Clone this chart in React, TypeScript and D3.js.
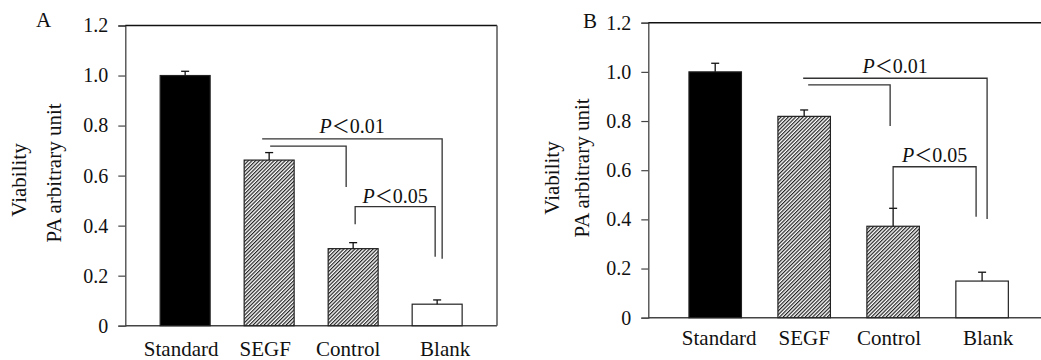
import { useEffect, useRef } from 'react'
import * as d3 from 'd3'

const CATEGORIES = ['Standard', 'SEGF', 'Control', 'Blank']
const Y_TICKS = [0, 0.2, 0.4, 0.6, 0.8, 1.0, 1.2]

const VALUES_A = [1.0, 0.662, 0.308, 0.086]
const ERRORS_A = [0.017, 0.03, 0.024, 0.017]
const VALUES_B = [1.0, 0.819, 0.372, 0.149]
const ERRORS_B = [0.035, 0.026, 0.073, 0.036]

const FILLS = ['#000', 'url(#hatch)', 'url(#hatch)', '#fff']

// bracket level / drop ends in data units (null = no drop)
type Bracket = { from: number; to: number; level: number; dropFrom: number | null; dropTo: number | null; dx0: number; dx1: number; label?: string }

const BRACKETS_A: Bracket[] = [
  { from: 1, to: 3, level: 0.747, dropFrom: null, dropTo: 0.268, dx0: -7, dx1: 5, label: 'P<0.01' },
  { from: 1, to: 2, level: 0.718, dropFrom: null, dropTo: 0.554, dx0: 1, dx1: -7 },
  { from: 2, to: 3, level: 0.476, dropFrom: 0.406, dropTo: 0.276, dx0: 2, dx1: -2, label: 'P<0.05' },
]
const BRACKETS_B: Bracket[] = [
  { from: 1, to: 3, level: 0.974, dropFrom: null, dropTo: 0.402, dx0: -1, dx1: 5, label: 'P<0.01' },
  { from: 1, to: 2, level: 0.947, dropFrom: null, dropTo: 0.78, dx0: 4, dx1: -3 },
  { from: 2, to: 3, level: 0.614, dropFrom: 0.445, dropTo: 0.411, dx0: 0, dx1: -6, label: 'P<0.05' },
]

const FONT = "'Liberation Serif', Tinos, 'DejaVu Serif', serif"

interface PanelSpec {
  letter: string
  values: number[]
  errors: number[]
  brackets: Bracket[]
  left: number
  right: number
  top: number
  bottom: number
  pad: number
  outer: number
  labelY: number
  labelDx: number[]
  titleX: [number, number]
  titleY: [number, number]
  letterPos: [number, number]
  rightBorder: boolean
  labelMid: [number, number]
}

const PANELS: PanelSpec[] = [
  {
    letter: 'A', values: VALUES_A, errors: ERRORS_A, brackets: BRACKETS_A,
    left: 125.3, right: 497, top: 25.5, bottom: 325.7, pad: 0.405, outer: 0.415,
    labelY: 356, labelDx: [-4, -4, -5, 8], titleX: [26, 61], titleY: [180, 173], letterPos: [36, 27],
    rightBorder: true, labelMid: [133.3, 203.3],
  },
  {
    letter: 'B', values: VALUES_B, errors: ERRORS_B, brackets: BRACKETS_B,
    left: 648.3, right: 1049, top: 22.7, bottom: 317.7, pad: 0.41, outer: 0.457,
    labelY: 345, labelDx: [4, 0, -4, 6], titleX: [559, 589], titleY: [178, 168], letterPos: [583, 28],
    rightBorder: false, labelMid: [73.3, 161.7],
  },
]

function setFont(sel: d3.Selection<any, any, any, any>, size = 20) {
  sel.style('font-family', FONT).style('font-size', `${size}px`).attr('fill', '#111')
}

function drawPanel(g: d3.Selection<SVGGElement, unknown, null, undefined>, p: PanelSpec) {
  const x = d3.scaleBand<string>().domain(CATEGORIES).range([p.left, p.right])
    .paddingInner(p.pad).paddingOuter(p.outer)
  const y = d3.scaleLinear([0, 1.2], [p.bottom, p.top])
  const cx = (i: number) => (x(CATEGORIES[i]) ?? 0) + x.bandwidth() / 2

  // y axis
  const axis = d3.axisLeft(y).tickValues(Y_TICKS).tickSize(7).tickPadding(10)
    .tickFormat((d) => (+d === 0 ? '0' : d3.format('.1f')(+d)))
  const ax = g.append('g').attr('transform', `translate(${p.left},0)`).call(axis)
  ax.attr('font-family', null).attr('font-size', null)
  ax.select('.domain').attr('stroke', '#444').attr('stroke-width', 1.3)
  ax.selectAll('.tick line').attr('stroke', '#444').attr('stroke-width', 1.2)
  setFont(ax.selectAll('.tick text'))

  // frame
  g.append('line').attr('x1', p.left).attr('x2', p.right).attr('y1', p.top).attr('y2', p.top)
    .attr('stroke', '#111').attr('stroke-width', 1.5)
  g.append('line').attr('x1', p.left).attr('x2', p.right).attr('y1', p.bottom).attr('y2', p.bottom)
    .attr('stroke', '#444').attr('stroke-width', 1.5)
  if (p.rightBorder) {
    g.append('line').attr('x1', p.right).attr('x2', p.right).attr('y1', p.top).attr('y2', p.bottom)
      .attr('stroke', '#555').attr('stroke-width', 1.5)
  }

  // bars
  g.append('g').selectAll('rect').data(p.values).join('rect')
    .attr('x', (_, i) => x(CATEGORIES[i]) ?? 0)
    .attr('y', (d) => y(d))
    .attr('width', x.bandwidth())
    .attr('height', (d) => p.bottom - y(d))
    .attr('fill', (_, i) => FILLS[i])
    .attr('stroke', '#222')
    .attr('stroke-width', 1.2)

  // error bars (upper only)
  const eg = g.append('g').attr('stroke', '#111').attr('stroke-width', 1.3)
  p.values.forEach((v, i) => {
    const top = y(v + p.errors[i])
    eg.append('line').attr('x1', cx(i)).attr('x2', cx(i)).attr('y1', y(v)).attr('y2', top)
    eg.append('line').attr('x1', cx(i) - 4).attr('x2', cx(i) + 4).attr('y1', top).attr('y2', top)
  })

  // category labels
  const labels = g.append('g').selectAll('text').data(CATEGORIES).join('text')
    .attr('x', (_, i) => cx(i) + p.labelDx[i])
    .attr('y', p.labelY)
    .attr('text-anchor', 'middle')
    .text((d) => d)
  setFont(labels, 21)

  // significance brackets
  const bg = g.append('g').attr('stroke', '#333').attr('stroke-width', 1.3).attr('fill', 'none')
  p.brackets.forEach((b) => {
    const x0 = cx(b.from) + b.dx0
    const x1 = cx(b.to) + b.dx1
    const yl = y(b.level)
    let d = b.dropFrom !== null ? `M${x0},${y(b.dropFrom)}L${x0},${yl}` : `M${x0},${yl}`
    d += `L${x1},${yl}`
    if (b.dropTo !== null) d += `L${x1},${y(b.dropTo)}`
    bg.append('path').attr('d', d)
  })
  let li = 0
  p.brackets.forEach((b) => {
    if (!b.label) return
    const x0 = cx(b.from) + b.dx0
    const x1 = cx(b.to) + b.dx1
    const t = g.append('text')
      .attr('x', (x0 + x1) / 2)
      .attr('y', p.labelMid[li++])
      .attr('text-anchor', 'middle')
    setFont(t)
    t.append('tspan').style('font-style', 'italic').text(b.label.slice(0, 1))
    t.append('tspan').style('font-family', "'Noto Sans CJK SC'").style('font-size', '18px').text('＜')
    t.append('tspan').text(b.label.slice(2))
  })

  // y titles
  ;['Viability', 'PA arbitrary unit'].forEach((s, i) => {
    const t = g.append('text')
      .attr('transform', `translate(${p.titleX[i]},${p.titleY[i]}) rotate(-90)`)
      .attr('text-anchor', 'middle')
      .text(s)
    setFont(t, 21)
  })

  // panel letter
  const lt = g.append('text').attr('x', p.letterPos[0]).attr('y', p.letterPos[1]).text(p.letter)
  setFont(lt, 21)
}

export default function App() {
  const svgRef = useRef<SVGSVGElement>(null)

  useEffect(() => {
    if (!svgRef.current) return
    const svg = d3.select(svgRef.current)
    svg.selectAll('*').remove()

    const defs = svg.append('defs')
    const pat = defs.append('pattern')
      .attr('id', 'hatch')
      .attr('patternUnits', 'userSpaceOnUse')
      .attr('width', 2.6)
      .attr('height', 2.6)
      .attr('patternTransform', 'rotate(45)')
    pat.append('rect').attr('width', 2.6).attr('height', 2.6).attr('fill', '#fff')
    pat.append('line').attr('x1', 0.6).attr('x2', 0.6).attr('y1', 0).attr('y2', 2.6)
      .attr('stroke', '#222').attr('stroke-width', 1.2)

    PANELS.forEach((p) => drawPanel(svg.append('g'), p))
  }, [])

  return (
    <svg
      ref={svgRef}
      width={1041}
      height={360}
      style={{ position: 'absolute', left: 0, top: 0, background: '#fff' }}
    />
  )
}
